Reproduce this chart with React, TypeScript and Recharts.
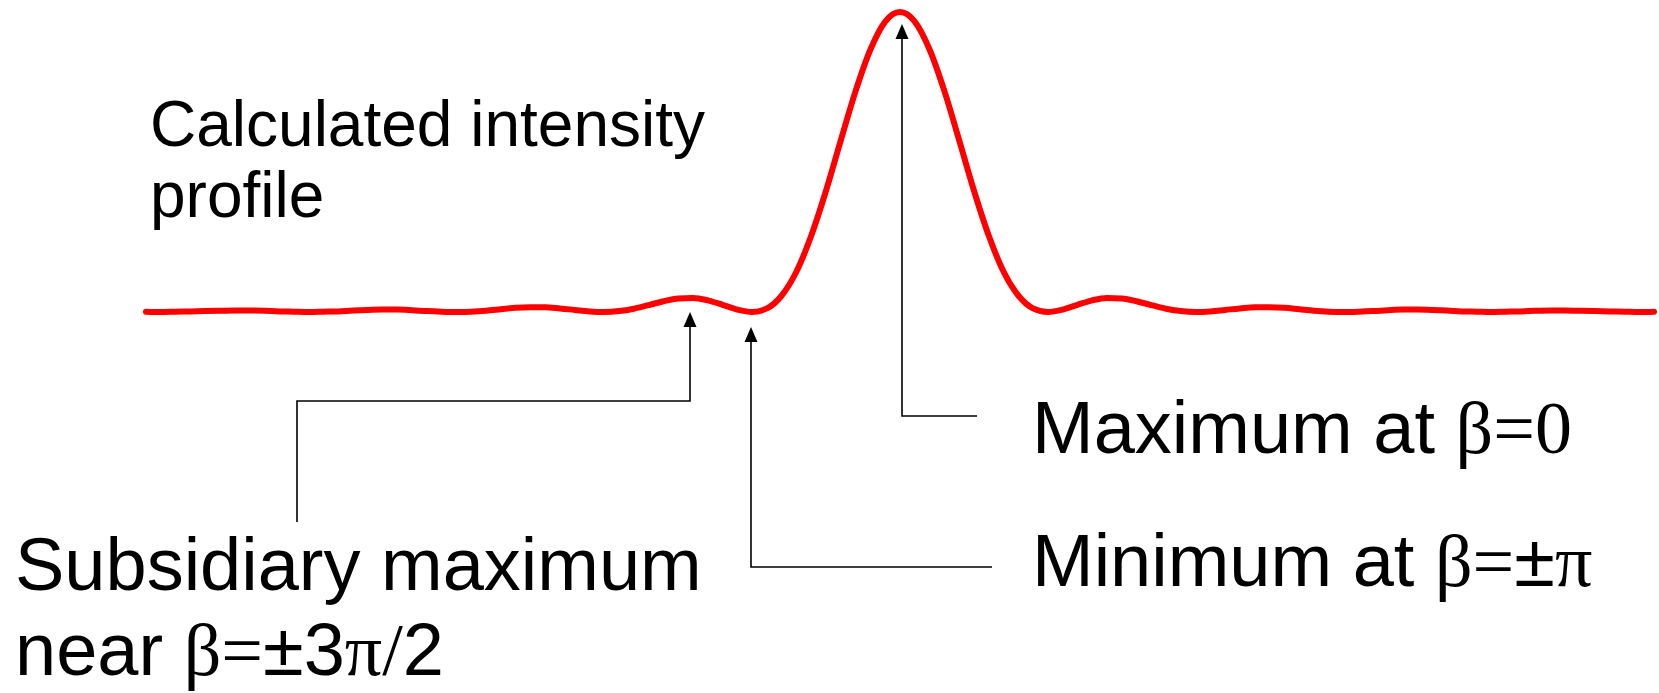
import React from "react";
import { LineChart, Line, XAxis, YAxis } from "recharts";

// beta in units of pi
const betaOverPi: number[] = [
  -5.1, -5.0, -4.9, -4.8, -4.7, -4.6, -4.5, -4.4, -4.3, -4.2, -4.1,
  -4.0, -3.9, -3.8, -3.7, -3.6, -3.5, -3.4, -3.3, -3.2, -3.1,
  -3.0, -2.9, -2.8, -2.7, -2.6, -2.5, -2.4, -2.3, -2.2, -2.1,
  -2.0, -1.9, -1.8, -1.7, -1.6, -1.5, -1.4, -1.3, -1.2, -1.1,
  -1.0, -0.9, -0.8, -0.7, -0.6, -0.5, -0.4, -0.3, -0.2, -0.1,
  0.0,
  0.1, 0.2, 0.3, 0.4, 0.5, 0.6, 0.7, 0.8, 0.9, 1.0,
  1.1, 1.2, 1.3, 1.4, 1.5, 1.6, 1.7, 1.8, 1.9, 2.0,
  2.1, 2.2, 2.3, 2.4, 2.5, 2.6, 2.7, 2.8, 2.9, 3.0,
  3.1, 3.2, 3.3, 3.4, 3.5, 3.6, 3.7, 3.8, 3.9, 4.0,
  4.1, 4.2, 4.3, 4.4, 4.5, 4.6, 4.7, 4.8, 4.9, 5.0, 5.1,
];

// relative intensity
const intensity: number[] = [
  0.001, 0.0, 0.001, 0.002, 0.003, 0.004, 0.005, 0.005, 0.004, 0.002, 0.001,
  0.0, 0.001, 0.002, 0.005, 0.007, 0.008, 0.008, 0.006, 0.003, 0.001,
  0.0, 0.001, 0.004, 0.009, 0.014, 0.016, 0.016, 0.012, 0.007, 0.002,
  0.0, 0.003, 0.011, 0.023, 0.036, 0.045, 0.047, 0.039, 0.024, 0.008,
  0.0, 0.012, 0.055, 0.135, 0.255, 0.405, 0.573, 0.737, 0.875, 0.968,
  1.0,
  0.968, 0.875, 0.737, 0.573, 0.405, 0.255, 0.135, 0.055, 0.012, 0.0,
  0.008, 0.024, 0.039, 0.047, 0.045, 0.036, 0.023, 0.011, 0.003, 0.0,
  0.002, 0.007, 0.012, 0.016, 0.016, 0.014, 0.009, 0.004, 0.001, 0.0,
  0.001, 0.003, 0.006, 0.008, 0.008, 0.007, 0.005, 0.002, 0.001, 0.0,
  0.001, 0.002, 0.004, 0.005, 0.005, 0.004, 0.003, 0.002, 0.001, 0.0, 0.001,
];

const data = betaOverPi.map((b, i) => ({ b, v: intensity[i] }));

const W = 1659;
const H = 693;
const SANS = "'Liberation Sans', Arial, sans-serif";
const SERIF = "'Liberation Serif', 'Times New Roman', serif";

const Arrow = ({ pts, tip }: { pts: [number, number][]; tip: [number, number] }) => {
  const [tx, ty] = tip;
  return (
    <g>
      <polyline
        points={pts.map((p) => p.join(",")).join(" ")}
        fill="none"
        stroke="#000"
        strokeWidth={1.6}
      />
      <polygon points={`${tx},${ty} ${tx - 6.5},${ty + 15} ${tx + 6.5},${ty + 15}`} fill="#000" />
    </g>
  );
};

export default function App() {
  return (
    <div style={{ position: "fixed", left: 0, top: 0, width: W, height: H, background: "#fff" }}>
      <LineChart
        width={W}
        height={H}
        data={data}
        margin={{ top: 12, right: 5, bottom: 381, left: 146 }}
      >
        <XAxis type="number" dataKey="b" domain={[-5.1, 5.1]} hide />
        <YAxis type="number" domain={[0, 1]} hide />
        <Line
          type="monotone"
          dataKey="v"
          stroke="#ff0000"
          strokeWidth={6}
          strokeLinecap="round"
          dot={false}
          activeDot={false}
          isAnimationActive={false}
        />
      </LineChart>
      <svg
        width={W}
        height={H}
        style={{ position: "absolute", left: 0, top: 0, pointerEvents: "none" }}
      >
        <Arrow pts={[[297, 522], [297, 401], [690, 401], [690, 326]]} tip={[690, 312]} />
        <Arrow pts={[[992, 567], [751, 567], [751, 341]]} tip={[751, 327]} />
        <Arrow pts={[[977, 416], [902, 416], [902, 38]]} tip={[902, 24]} />

        <g fontFamily={SANS} fill="#000">
          <text x={150} y={146} fontSize={64}>Calculated intensity</text>
          <text x={150} y={217} fontSize={64}>profile</text>

          <text x={1032} y={453} fontSize={74}>
            Maximum at <tspan fontFamily={SERIF}>β=0</tspan>
          </text>
          <text x={1032} y={586} fontSize={74}>
            Minimum at <tspan fontFamily={SERIF}>β=</tspan>±<tspan fontFamily={SERIF}>π</tspan>
          </text>

          <text x={15} y={590} fontSize={74}>Subsidiary maximum</text>
          <text x={15} y={675} fontSize={74}>
            near <tspan fontFamily={SERIF}>β=</tspan>±3<tspan fontFamily={SERIF}>π/</tspan>2
          </text>
        </g>
      </svg>
    </div>
  );
}
